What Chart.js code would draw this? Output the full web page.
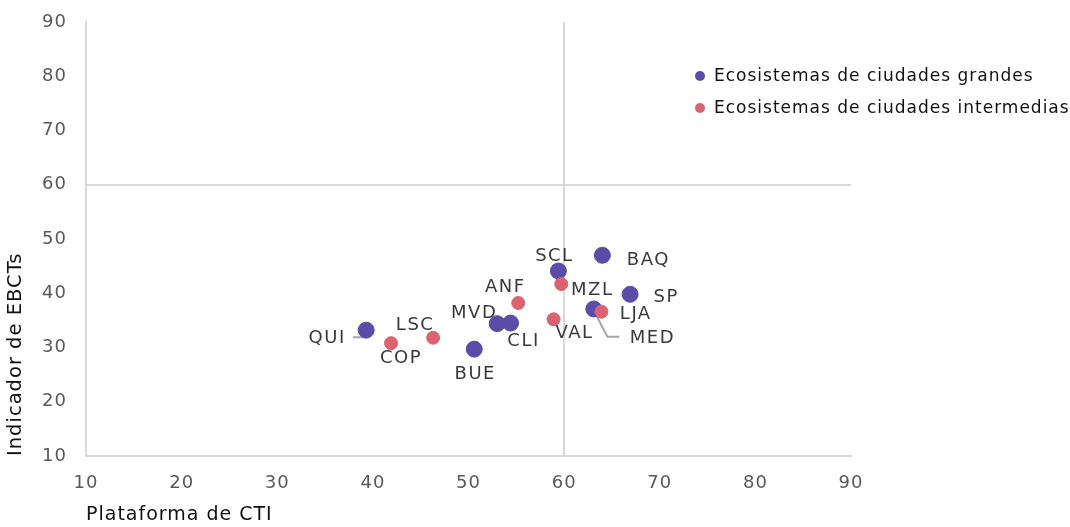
<!DOCTYPE html>
<html><head><meta charset="utf-8">
<script src="https://cdn.jsdelivr.net/npm/chart.js@4/dist/chart.umd.min.js"></script>
<style>html,body{margin:0;padding:0;background:#fff}</style>
</head><body>
<canvas id="c" width="1070" height="527"></canvas>
<script>
// ---- data ----
const largeLabels = ['QUI','BUE','MVD','CLI','SCL','BAQ','SP','LJA'];
const largeX = [39.3, 50.6, 53.0, 54.4, 59.4, 64.0, 66.9, 63.1];
const largeY = [33.2, 29.7, 34.4, 34.5, 44.1, 47.0, 39.8, 37.1];
const midLabels = ['COP','LSC','ANF','MZL','VAL','MED'];
const midX = [41.9, 46.3, 55.2, 59.7, 58.9, 63.9];
const midY = [30.8, 31.8, 38.2, 41.7, 35.2, 36.6];
const seriesNames = ['Ecosistemas de ciudades grandes','Ecosistemas de ciudades intermedias'];
const xTitle = 'Plataforma de CTI';
const yTitle = 'Indicador de EBCTs';

// ---- label placement (pixel offsets from point) ----
const labelOffsets = {
  QUI:[-40,8], BUE:[0,25], MVD:[-24,-10], CLI:[12,18], SCL:[-5,-15], BAQ:[45,5], SP:[35,3], LJA:[41,5],
  COP:[9,15], LSC:[-19,-12], ANF:[-14,-16], MZL:[30,6], VAL:[20,14], MED:[50,27]
};
const leaders = {
  QUI:[[-13,7],[-1,7],[-1,3]],
  MED:[[-7,0],[6,25],[18,25]]
};

const FONT = '"DejaVu Sans", sans-serif';
const purple = '#5B4DA7', red = '#DB626E';

function toPts(xs, ys){ return xs.map((x,i)=>({x:x, y:ys[i]})); }

const spacingPlugin = {
  id:'spacing',
  beforeDraw(chart){ chart.ctx.letterSpacing = '1px'; }
};

const labelPlugin = {
  id:'pointLabels',
  beforeDatasetsDraw(chart){
    const ctx = chart.ctx;
    ctx.save();
    ctx.strokeStyle = '#a6a6a6'; ctx.lineWidth = 2;
    chart.data.datasets.forEach((ds, di)=>{
      const meta = chart.getDatasetMeta(di);
      meta.data.forEach((el, i)=>{
        const name = ds.names[i];
        const L = leaders[name];
        if(!L) return;
        ctx.beginPath();
        L.forEach((p,k)=>{ if(k===0) ctx.moveTo(el.x+p[0], el.y+p[1]); else ctx.lineTo(el.x+p[0], el.y+p[1]); });
        ctx.stroke();
      });
    });
    ctx.restore();
  },
  afterDatasetsDraw(chart){
    const ctx = chart.ctx;
    ctx.save();
    ctx.letterSpacing = '1.5px';
    ctx.font = '18px ' + FONT;
    ctx.fillStyle = '#3a3a3a';
    ctx.textAlign = 'center'; ctx.textBaseline = 'middle';
    chart.data.datasets.forEach((ds, di)=>{
      const meta = chart.getDatasetMeta(di);
      meta.data.forEach((el, i)=>{
        const name = ds.names[i];
        const o = labelOffsets[name] || [0,-15];
        ctx.fillText(name, el.x+o[0]+1, el.y+o[1]);
      });
    });
    // legend
    ctx.letterSpacing = '1px';
    ctx.font = '17px ' + FONT;
    ctx.textAlign = 'left';
    const order = [1,0];
    order.forEach((di, k)=>{
      const ds = chart.data.datasets[di];
      const y = 76 + k*32;
      ctx.beginPath(); ctx.arc(700, y, 5, 0, Math.PI*2);
      ctx.fillStyle = ds.backgroundColor; ctx.fill();
      ctx.fillStyle = '#111';
      ctx.fillText(ds.label, 714, y+1);
    });
    ctx.restore();
  }
};

const gridColor = (ctx)=> (ctx.tick && ctx.tick.value === 60) ? '#d9d9d9' : 'rgba(0,0,0,0)';

new Chart(document.getElementById('c'), {
  type:'scatter',
  data:{
    datasets:[
      { label: seriesNames[1], names: midLabels, data: toPts(midX, midY), backgroundColor: red, borderColor: red, pointRadius: 6.5, pointHoverRadius: 6.5, order: 0 },
      { label: seriesNames[0], names: largeLabels, data: toPts(largeX, largeY), backgroundColor: purple, borderColor: purple, pointRadius: 8, pointHoverRadius: 8, order: 1 }
    ]
  },
  options:{
    responsive:false, animation:false, devicePixelRatio:1,
    layout:{ padding:{ top:22, right:219, left:0, bottom:0 } },
    plugins:{ legend:{display:false}, tooltip:{enabled:false} },
    scales:{
      x:{
        type:'linear', min:10, max:90,
        ticks:{ stepSize:10, color:'#595959', font:{family:FONT, size:18}, padding:17 },
        grid:{ color:gridColor, lineWidth:2, drawTicks:false },
        border:{ display:true, color:'#d9d9d9', width:2 },
        title:{ display:true, text:xTitle, align:'start', color:'#111', font:{family:FONT, size:19}, padding:{top:6, bottom:1} },
        afterFit(s){ s.height = 71; s.paddingLeft = 0; s.paddingRight = 0; }
      },
      y:{
        type:'linear', min:10, max:90,
        ticks:{ stepSize:10, color:'#595959', font:{family:FONT, size:18}, padding:19 },
        grid:{ color:gridColor, lineWidth:2, drawTicks:false },
        border:{ display:true, color:'#d9d9d9', width:2 },
        title:{ display:true, text:yTitle, align:'start', color:'#111', font:{family:FONT, size:19.5}, padding:{top:4, bottom:4} },
        afterFit(s){ s.width = 86; s.paddingTop = 0; s.paddingBottom = 0; }
      }
    }
  },
  plugins:[spacingPlugin, labelPlugin]
});
</script>
</body></html>
